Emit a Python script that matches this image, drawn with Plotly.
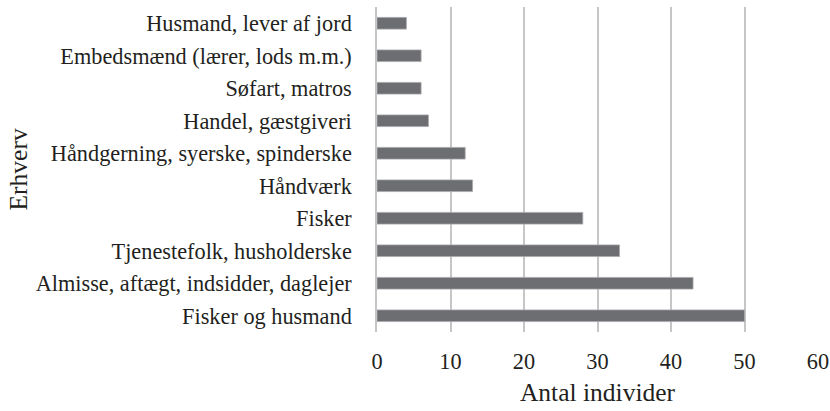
import plotly.graph_objects as go

categories = [
    "Fisker og husmand",
    "Almisse, aftægt, indsidder, daglejer",
    "Tjenestefolk, husholderske",
    "Fisker",
    "Håndværk",
    "Håndgerning, syerske, spinderske",
    "Handel, gæstgiveri",
    "Søfart, matros",
    "Embedsmænd (lærer, lods m.m.)",
    "Husmand, lever af jord",
]
values = [50, 43, 33, 28, 13, 12, 7, 6, 6, 4]
x_ticks = [0, 10, 20, 30, 40, 50, 60]

FONT = "Liberation Serif"
L, R, T, B, W, H = 377, 12, 7, 79, 830, 411
fig = go.Figure(go.Bar(
    y=categories, x=values, orientation="h",
    marker=dict(color="#6d6e71", line=dict(color="#a9aaad", width=0.8)),
    width=0.36,
))
fig.update_layout(
    width=W, height=H,
    margin=dict(l=L, r=R, t=T, b=B),
    paper_bgcolor="white", plot_bgcolor="white",
    font=dict(family=FONT, size=22.3, color="#231f20"),
    showlegend=False,
    bargap=0.64,
)
fig.update_xaxes(
    range=[0, 60], tickvals=x_ticks, showgrid=True, gridcolor="#c6c6c6", gridwidth=1.5,
    zeroline=False, showline=False, ticklabelstandoff=14, automargin=False,
    title=dict(text="Antal individer", standoff=9, font=dict(size=25.5)),
)
fig.update_yaxes(
    categoryorder="array", categoryarray=categories, showgrid=False,
    showline=True, linecolor="#c6c6c6", linewidth=1.5, zeroline=False,
    ticklabelstandoff=19, range=[-0.5, 9.5], automargin=False,
)
pw = W - L - R
fig.add_annotation(
    text="Erhverv", xref="paper", yref="paper",
    x=(18 - L) / pw, y=0.5, xanchor="center", yanchor="middle",
    textangle=-90, showarrow=False, font=dict(size=25.5),
)
fig.write_html("out.html", config={"displayModeBar": False},
               post_script="document.body.style.margin='0';")
